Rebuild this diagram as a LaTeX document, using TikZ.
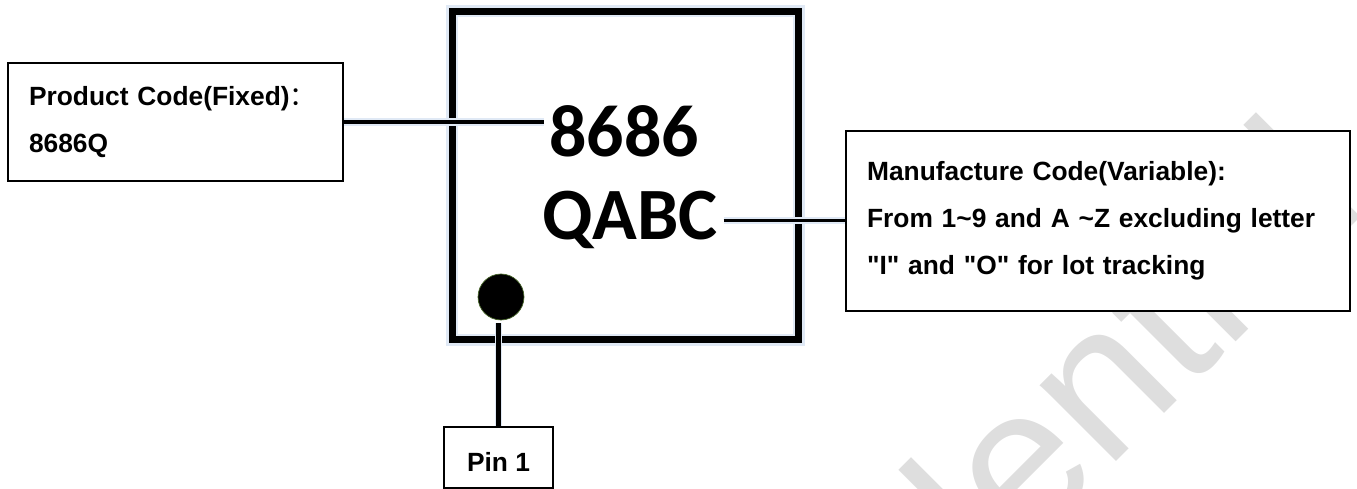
\documentclass[tikz,border=0pt]{standalone}
\usepackage{fontspec}
\setmainfont{Liberation Sans}[Ligatures=TeXOff]
\newfontfamily\cjk{Noto Sans CJK SC}
\newfontfamily\calibri{Carlito}
\definecolor{glow}{RGB}{224,233,245}
\definecolor{wmgray}{RGB}{222,222,222}
\definecolor{dotrim}{RGB}{70,100,40}

\begin{document}
\begin{tikzpicture}[x=0.02cm, y=-0.02cm,
    labelbox/.style={draw, line width=1.1pt, fill=white, align=left, inner xsep=0.42cm,
        font=\bfseries\fontsize{15}{26.7}\selectfont},
    codetext/.style={font=\calibri\bfseries\fontsize{42}{42}\selectfont, inner sep=3pt},
    lead/.style={line width=2pt, preaction={draw=glow, line width=4pt}},
    watermark/.style={text=wmgray, font=\fontsize{116}{116}\selectfont}]

    \useasboundingbox (0,0) rectangle (1357,489);
    \begin{scope}
        \clip (0,0) rectangle (1357,489);
        \node[watermark, rotate=45, anchor=base] (wm) at (990,588) {Confidential};
    \end{scope}

    \node[draw, line width=4pt, minimum width=6.94cm, minimum height=6.58cm,
        preaction={draw=glow, line width=6.5pt}] (chip) at (625.5,175.5) {};
    \node[codetext, anchor=base] (top) at (624,157) {8686};
    \node[codetext, anchor=base] (bot) at (630,240) {QABC};
    \node[circle, fill=black, draw=dotrim, line width=0.4pt, minimum size=0.92cm, inner sep=0] (dot) at (501,297) {};

    \node[labelbox, text width=5.86cm, minimum height=2.36cm] (prod) at (175.5,122)
        {Product Code(Fixed){\cjk\mdseries ：}\\8686Q};
    \node[labelbox, text width=9.24cm, minimum height=3.6cm] (mfg) at (1098,221)
        {Manufacture Code(Variable):\\From 1\textasciitilde9 and A \textasciitilde Z excluding letter\\"I" and "O" for lot tracking};
    \node[labelbox, align=center, inner xsep=0, text height=0.58cm, text depth=0pt,
        minimum width=2.18cm, minimum height=1.22cm] (pin) at (498.5,457.5) {Pin 1};

    \draw[lead] (prod.east) -- (prod.east -| top.west);
    \draw[lead] (bot.east) -- (bot.east -| mfg.west);
    \draw[lead, line width=2.3pt] (dot.south -| pin.north) ++(0,3) -- (pin.north);
\end{tikzpicture}
\end{document}
